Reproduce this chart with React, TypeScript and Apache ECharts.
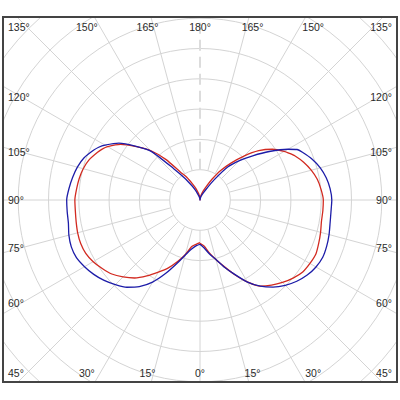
import React, { useEffect, useRef } from "react";
import * as echarts from "echarts";

// gamma angles (0° = straight down, 180° = straight up)
const gammaAngles = [0, 5, 10, 15, 20, 25, 30, 35, 40, 45, 50, 55, 60, 65, 70, 75, 80, 85, 90, 95, 100, 105, 110, 115, 117.5, 120, 125, 130, 135, 140, 145, 150, 155, 160, 165, 170, 175, 180];

// intensities, left half of the diagram
const blueLeft = [146, 152, 165, 188, 223, 267, 313, 349, 376, 395, 413, 428, 440, 450, 452, 448, 441, 440, 440, 434, 427, 419, 407, 388, 377, 362, 327, 275, 226, 135, 89, 56, 36, 20, 12, 7, 3, 0];
const redLeft = [141, 147, 156, 186, 216, 247, 275, 306, 336, 359, 380, 394, 407, 416, 419, 418, 415, 413, 413, 409, 405, 399, 389, 373, 364, 352, 320, 274, 231, 174, 112, 86, 59, 42, 26, 17, 10, 0];
// intensities, right half of the diagram
const blueRight = [146, 159, 181, 203, 236, 271, 313, 347, 375, 398, 417, 432, 442, 447, 445, 441, 436, 434, 435, 431, 423, 411, 394, 373, 361, 335, 279, 227, 184, 142, 81, 43, 26, 17, 10, 5, 2, 0];
const redRight = [143, 152, 177, 203, 234, 272, 312, 347, 367, 385, 401, 414, 419, 422, 417, 412, 407, 407, 407, 401, 393, 380, 364, 345, 333, 321, 292, 253, 205, 159, 119, 79, 50, 33, 20, 13, 7, 0];

const labelAngles = [0, 15, 30, 45, 60, 75, 90, 105, 120, 135, 150, 165, 180];

const RING_STEP = 100;
const RING_COUNT = 9;

// layout (pixels)
const FRAME = { left: 2, top: 16, width: 396, height: 367, border: 2 };
const PAGE_CX = 200;
const PAGE_CY = 200;
const RING_PX = 30.3;

function buildCurve(left: number[], right: number[]) {
  const l = gammaAngles.map((g, i) => [left[i], g]);
  const r = gammaAngles.map((g, i) => [right[i], 360 - g]).reverse();
  return l.concat(r);
}

export default function App() {
  const ref = useRef<HTMLDivElement>(null);

  useEffect(() => {
    if (!ref.current) return;
    const chart = echarts.init(ref.current, undefined, { renderer: "svg" });
    const ox = FRAME.left + FRAME.border;
    const oy = FRAME.top + FRAME.border;
    const cx = PAGE_CX - ox;
    const cy = PAGE_CY - oy;
    const outerR = RING_PX * RING_COUNT;

    const rad = (d: number) => (d * Math.PI) / 180;
    const texts: any[] = [];
    const font = '10.5px "Liberation Sans", Arial, sans-serif';
    const addText = (t: string, x: number, y: number, align: string) => {
      texts.push({
        type: "text",
        x: x - ox,
        y: y - oy,
        z: 5,
        style: {
          text: t,
          fill: "#2a2a2a",
          font,
          align,
          verticalAlign: "middle",
          textAlign: align,
          textVerticalAlign: "middle",
        },
      });
    };
    const bottomY = 372.7;
    const topY = 26.7;
    labelAngles.forEach((g) => {
      const sides = g === 0 || g === 180 ? [0] : [-1, 1];
      sides.forEach((s) => {
        const t = `${g}°`;
        const edgeX = s < 0 ? 8 : 392;
        const align = s < 0 ? "left" : "right";
        if (g <= 30) {
          addText(t, PAGE_CX + s * 196 * Math.tan(rad(g)), bottomY, "center");
        } else if (g >= 150) {
          addText(t, PAGE_CX + s * 196 * Math.tan(rad(180 - g)), topY, "center");
        } else if (g === 45) {
          addText(t, edgeX, bottomY, align);
        } else if (g === 135) {
          addText(t, edgeX, topY, align);
        } else {
          addText(t, edgeX, PAGE_CY + 179 / Math.tan(rad(g)), align);
        }
      });
    });

    const gridColor = "#d4d4d4";
    const spokeColors = Array.from({ length: 25 }, (_, i) => (i === 12 ? "rgba(0,0,0,0)" : gridColor));

    chart.setOption({
      animation: false,
      polar: [
        { center: [cx, cy], radius: [RING_PX, outerR] },
        { center: [cx, cy], radius: outerR },
      ],
      angleAxis: [
        {
          polarIndex: 0,
          type: "value",
          min: 0,
          max: 360,
          interval: 15,
          startAngle: 270,
          clockwise: true,
          axisLine: { show: false },
          axisTick: { show: false },
          axisLabel: { show: false },
          splitLine: { show: true, lineStyle: { color: spokeColors, width: 1 } },
        },
        {
          polarIndex: 1,
          type: "value",
          min: 0,
          max: 360,
          interval: 15,
          startAngle: 270,
          clockwise: true,
          axisLine: { show: false },
          axisTick: { show: false },
          axisLabel: { show: false },
          splitLine: { show: false },
        },
      ],
      radiusAxis: [
        {
          polarIndex: 0,
          type: "value",
          min: 0,
          max: RING_COUNT - 1,
          interval: 1,
          axisLine: { show: false },
          axisTick: { show: false },
          axisLabel: { show: false },
          splitLine: { show: true, lineStyle: { color: gridColor, width: 1 } },
        },
        {
          polarIndex: 1,
          type: "value",
          min: 0,
          max: RING_STEP * RING_COUNT,
          interval: RING_STEP,
          axisLine: { show: false },
          axisTick: { show: false },
          axisLabel: { show: false },
          splitLine: { show: false },
        },
      ],
      graphic: [
        {
          type: "line",
          z: 1,
          shape: { x1: cx, y1: cy - RING_PX, x2: cx, y2: 0 },
          style: { stroke: "#dcdcdc", lineWidth: 2, lineDash: [11, 6] },
        },
        ...texts,
      ],
      series: [
        {
          type: "line",
          coordinateSystem: "polar",
          polarIndex: 1,
          data: buildCurve(redLeft, redRight),
          symbol: "none",
          smooth: 0.2,
          lineStyle: { color: "#d22a20", width: 1.3 },
          z: 3,
        },
        {
          type: "line",
          coordinateSystem: "polar",
          polarIndex: 1,
          data: buildCurve(blueLeft, blueRight),
          symbol: "none",
          smooth: 0.2,
          lineStyle: { color: "#1c1ca8", width: 1.3 },
          z: 4,
        },
      ],
    });
    return () => chart.dispose();
  }, []);

  return (
    <div style={{ position: "absolute", left: 0, top: 0, width: 400, height: 400, background: "#fff" }}>
      <div
        style={{
          position: "absolute",
          left: FRAME.left,
          top: FRAME.top,
          width: FRAME.width,
          height: FRAME.height,
          boxSizing: "border-box",
          border: `${FRAME.border}px solid #444`,
          overflow: "hidden",
        }}
      >
        <div ref={ref} style={{ width: "100%", height: "100%" }} />
      </div>
    </div>
  );
}
